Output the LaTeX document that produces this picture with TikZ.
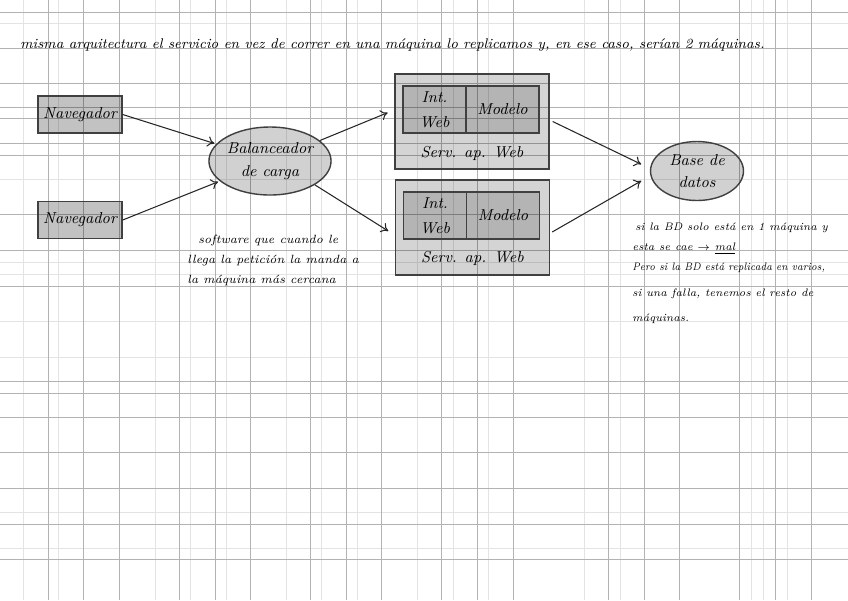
\documentclass[tikz,border=0pt]{standalone}
\usepackage{fontspec}
\usepackage{graphicx}
\usetikzlibrary{shapes.geometric,arrows.meta,positioning}
\begin{document}
\begin{tikzpicture}[x=0.02cm,y=-0.02cm,every node/.style={font=\fontsize{9}{10}\selectfont\itshape}]
    \tikzset{
      gridDark/.style={gray!60,line width=0.5pt},
      gridLight/.style={gray!22,line width=0.5pt},
      arr/.style={black!85,line width=0.6pt,-{To[length=4pt,width=6pt]},shorten >=1pt},
      navbox/.style={draw=black!75,line width=0.8pt,fill=black,fill opacity=0.24,text opacity=1,
        minimum width=1.68cm,minimum height=0.74cm,inner sep=0pt},
      oval/.style={ellipse,draw=black!75,line width=0.8pt,fill=black,fill opacity=0.18,text opacity=1,
        inner sep=0pt,align=center,font=\fontsize{9}{13}\selectfont\itshape},
      srv/.style={draw=black!75,line width=0.8pt,fill=black,fill opacity=0.17,
        minimum width=3.08cm,minimum height=1.9cm,inner sep=0pt},
      part/.style={draw=black!75,line width=0.8pt,fill=black,fill opacity=0.15,text opacity=1,
        minimum height=0.94cm,inner sep=0pt,align=center,font=\fontsize{9}{14}\selectfont\itshape},
      note/.style={inner sep=0pt,align=left,font=\fontsize{6.8}{11.4}\selectfont\itshape}
    }
    \useasboundingbox (0,0) rectangle (848,600);
    \fill[white] (0,0) rectangle (848,600);
    % squared paper
    \foreach \gx in {23,58,155,190,226,286,321,357,417,453,488,584,620,751,763,787}
      \draw[gridLight] (\gx,0) -- (\gx,600);
    \foreach \gy in {23,179,262,274,321,357,512,548}
      \draw[gridLight] (0,\gy) -- (848,\gy);
    \foreach \gx in {48,83,119,179,215,250,310,346,381,441,477,513,608,644,679,739,775,811}
      \draw[gridDark] (\gx,0) -- (\gx,600);
    \foreach \gy in {12,48,83,107,118,143,155,214,250,286,381,393,417,452,488,524,559}
      \draw[gridDark] (0,\gy) -- (848,\gy);
    % header
    \node[note,anchor=west,font=\fontsize{8}{10}\selectfont\itshape] (title) at (20,45)
      {misma arquitectura el servicio en vez de correr en una máquina lo replicamos y, en ese caso, serían 2 máquinas.};
    % clients and balancer
    \node[navbox] (nav1) at (80,114.5) {Navegador};
    \node[navbox] (nav2) at (80,220) {Navegador};
    \node[oval,minimum width=2.28cm,minimum height=1.36cm] (bal) at (270,161) {Balanceador\\de carga};
    \node[note,anchor=north west] (balnote) at (187,235)
      {\hspace*{0.22cm}software que cuando le\\llega la petición la manda a\\la máquina más cercana};
    % replicated servers
    \node[srv] (srvA) at (472,121.5) {};
    \node[part,minimum width=1.26cm] (intA) at (434.5,109.5) {Int.\\Web};
    \node[part,minimum width=1.46cm] (modA) at (502.5,109.5) {Modelo};
    \node (labA) at (472,153) {Serv. ap. Web};
    \node[srv] (srvB) at (472.5,227.5) {};
    \node[part,minimum width=1.26cm] (intB) at (435,215.5) {Int.\\Web};
    \node[part,minimum width=1.46cm] (modB) at (503,215.5) {Modelo};
    \node (labB) at (472.5,258) {Serv. ap. Web};
    % database
    \node[oval,minimum width=1.86cm,minimum height=1.18cm] (db) at (697,171) {Base de\\datos};
    \node[note,anchor=north west,font=\fontsize{6.2}{11.3}\selectfont\itshape] (dbnote) at (632,223)
      {\hspace*{0.06cm}si la BD solo está en 1 máquina y\\esta se cae $\rightarrow$ \underline{mal}\\\scalebox{0.88}[1]{Pero si la BD está replicada en varios,}\\[3.4pt]si una falla, tenemos el resto de\\[2.9pt]máquinas.};
    % connectors
    \draw[arr] (nav1.east) -- (bal);
    \draw[arr] (nav2.east) -- (bal);
    \draw[arr] (bal) -- ([xshift=-0.1cm,yshift=0.19cm]srvA.west);
    \draw[arr] (bal.-28) -- ([xshift=-0.1cm,yshift=-0.09cm]srvB.west);
    \draw[arr] ([xshift=0.06cm]srvA.east) -- ([xshift=-0.14cm,yshift=0.12cm]db.west);
    \draw[arr] ([xshift=0.04cm,yshift=-0.09cm]srvB.east) -- ([xshift=-0.14cm,yshift=-0.18cm]db.west);
  \end{tikzpicture}
\end{document}
